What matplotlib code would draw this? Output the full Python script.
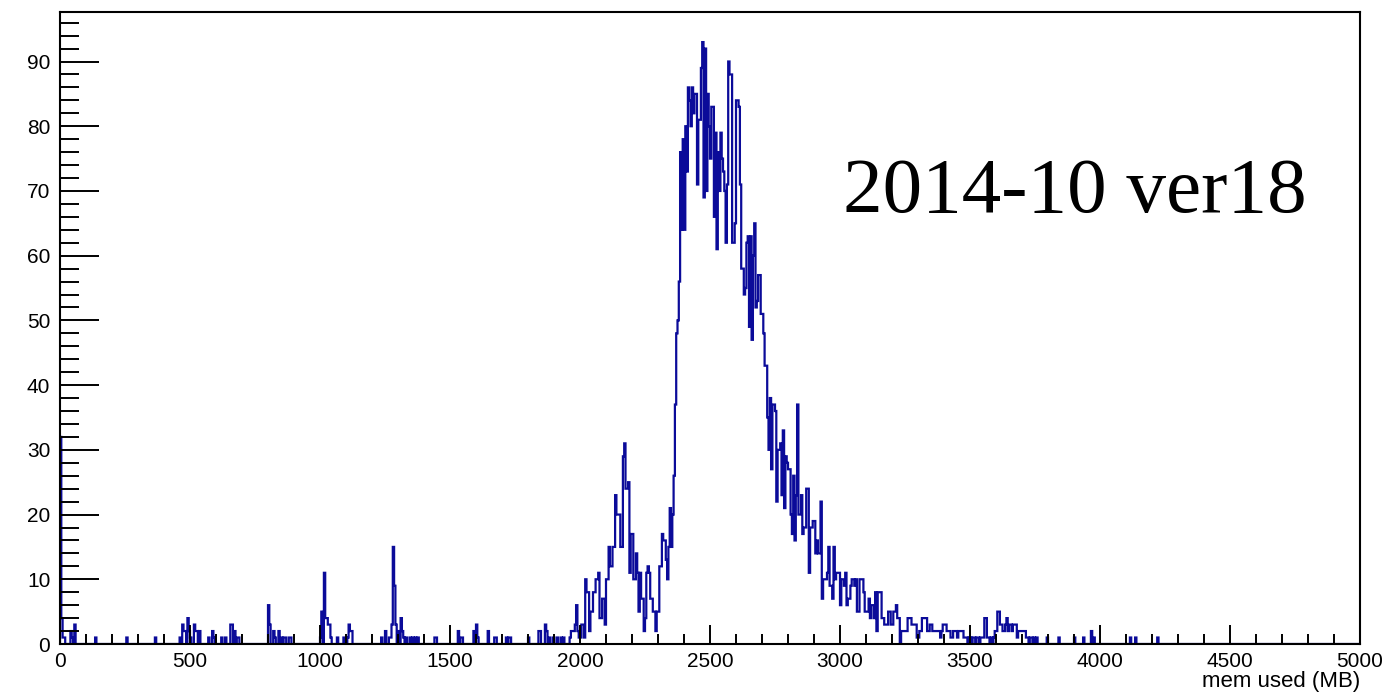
import numpy as np
import matplotlib
matplotlib.use('Agg')
import matplotlib.pyplot as plt
from matplotlib.ticker import MultipleLocator

plt.rcParams['font.family'] = ['Liberation Sans', 'DejaVu Sans']

bin_width = 5  # MB per bin

# sparse bins below the main peak (bin start in MB, count)
low_mb = [0, 5, 10, 15, 40, 45, 55, 135, 255, 365,
          460, 470, 475, 480, 490, 495, 500, 515, 520, 525,
          535, 570, 585, 590, 620, 635, 655, 660, 670, 680,
          685, 800, 805, 820, 825, 840, 850, 860, 865, 880,
          885, 1000, 1005, 1015, 1020, 1025, 1030, 1035, 1040, 1065,
          1090, 1105, 1110, 1115, 1120, 1235, 1250, 1265, 1270, 1275,
          1280, 1285, 1290, 1300, 1310, 1315, 1320, 1330, 1345, 1355,
          1365, 1375, 1440, 1445, 1530, 1540, 1545, 1590, 1600, 1605,
          1645, 1670, 1675, 1715, 1725, 1730, 1800, 1840, 1845, 1865,
          1870, 1880, 1895, 1910]
low_counts = [32, 4, 1, 1, 2, 1, 3, 1, 1, 1,
              1, 3, 2, 2, 4, 2, 1, 3, 2, 2,
              2, 1, 2, 1, 1, 1, 3, 3, 2, 1,
              1, 6, 3, 2, 1, 2, 1, 1, 1, 1,
              1, 1, 5, 11, 4, 4, 3, 3, 1, 1,
              1, 1, 3, 2, 2, 1, 2, 1, 1, 3,
              15, 9, 3, 2, 4, 2, 1, 1, 1, 1,
              1, 1, 1, 1, 2, 1, 1, 2, 3, 1,
              2, 1, 1, 1, 1, 1, 1, 2, 2, 3,
              2, 1, 1, 1]

# contiguous bins of the main peak, starting at peak_start MB
peak_start = 1920
peak_counts = [
    0, 1, 0, 1, 0, 0, 0, 0, 1, 2,
    2, 2, 3, 6, 2, 1, 1, 3, 3, 1,
    10, 8, 8, 2, 5, 5, 8, 8, 10, 10,
    11, 4, 4, 7, 7, 3, 10, 10, 15, 12,
    12, 15, 15, 23, 20, 20, 20, 15, 15, 29,
    31, 24, 24, 25, 11, 17, 17, 10, 10, 14,
    11, 5, 11, 7, 7, 2, 4, 11, 12, 11,
    7, 7, 5, 5, 2, 5, 5, 12, 12, 17,
    16, 16, 13, 10, 15, 21, 15, 20, 26, 37,
    48, 50, 56, 76, 64, 78, 64, 80, 73, 86,
    84, 80, 86, 82, 85, 85, 71, 81, 81, 89,
    93, 69, 92, 70, 85, 80, 75, 83, 83, 66,
    79, 61, 76, 70, 79, 75, 73, 70, 62, 71,
    90, 88, 88, 62, 62, 65, 84, 84, 83, 71,
    58, 58, 54, 55, 62, 63, 49, 63, 47, 60,
    65, 52, 53, 57, 57, 51, 51, 48, 43, 43,
    35, 30, 38, 27, 37, 37, 36, 22, 30, 30,
    31, 23, 33, 21, 29, 28, 27, 27, 20, 17,
    26, 16, 23, 37, 20, 20, 23, 17, 18, 18,
    24, 24, 11, 18, 18, 19, 19, 14, 16, 14,
    14, 22, 7, 10, 10, 10, 11, 15, 9, 9,
    7, 15, 10, 11, 11, 11, 6, 10, 10, 9,
    11, 6, 7, 7, 9, 10, 10, 9, 10, 5,
    5, 10, 10, 10, 8, 5, 5, 5, 7, 4,
    6, 6, 4, 8, 2, 8, 8, 8, 4, 4,
    3, 3, 3, 5, 5, 3, 3, 5, 5, 6,
    4, 4, 0, 2, 2, 2, 2, 2, 4, 4,
    4, 3, 3, 3, 3, 1, 1, 2, 2, 4,
    4, 4, 4, 2, 2, 3, 3, 2, 2, 2,
    2, 2, 2, 1, 2, 3, 3, 3, 2, 2,
    2, 1, 1, 2, 2, 2, 1, 2, 2, 2,
    2, 1, 1, 1, 0, 1, 1, 0, 1, 1,
    0, 1, 1, 0, 1, 1, 1, 4, 4, 1,
    1, 0, 1, 0, 1, 2, 2, 5, 5, 3,
    3, 2, 2, 3, 4, 2, 3, 3, 2, 3,
    3, 3, 1, 2, 2, 2, 2, 2, 2, 1,
    1, 0, 1, 1, 0, 1, 0, 1, 0, 0,
]

# sparse bins above the peak
tail_mb = [3795, 3840, 3900, 3935, 3965, 3975, 4115, 4135, 4220]
tail_counts = [1, 1, 1, 1, 2, 1, 1, 1, 1]

label_text = '2014-10 ver18'
x_label = 'mem used (MB)'

edges = np.arange(0, 5000 + bin_width, bin_width)
counts = np.zeros(len(edges) - 1)
for mb, c in zip(low_mb, low_counts):
    counts[mb // bin_width] = c
i0 = peak_start // bin_width
counts[i0:i0 + len(peak_counts)] = peak_counts
for mb, c in zip(tail_mb, tail_counts):
    counts[mb // bin_width] = c

W, H = 1387, 694
fig = plt.figure(figsize=(W / 100, H / 100), dpi=100)
ax = fig.add_axes([60 / W, 50 / H, 1300 / W, 632 / H])

ax.stairs(counts, edges, color='#0b0b99', lw=1.6)

ax.set_xlim(0, 5000)
ax.set_ylim(0, counts.max() * 1.05)

ax.xaxis.set_major_locator(MultipleLocator(500))
ax.xaxis.set_minor_locator(MultipleLocator(100))
ax.yaxis.set_major_locator(MultipleLocator(10))
ax.yaxis.set_minor_locator(MultipleLocator(2))

for s in ax.spines.values():
    s.set_linewidth(1.5)

ax.tick_params(axis='both', which='both', direction='in', width=1.4,
               top=False, right=False, labelsize=15)
ax.tick_params(axis='y', which='major', length=28, pad=7)
ax.tick_params(axis='y', which='minor', length=14)
ax.tick_params(axis='x', which='major', length=13.5, pad=6)
ax.tick_params(axis='x', which='minor', length=7)

ax.text(843 / W, 1 - 212 / H, label_text, transform=fig.transFigure,
        family='Liberation Serif', fontsize=57, va='baseline', ha='left')
fig.text(1360 / W, 1 - 682 / H, x_label, ha='right', va='center', fontsize=16)

fig.savefig('out.png', dpi=100)
